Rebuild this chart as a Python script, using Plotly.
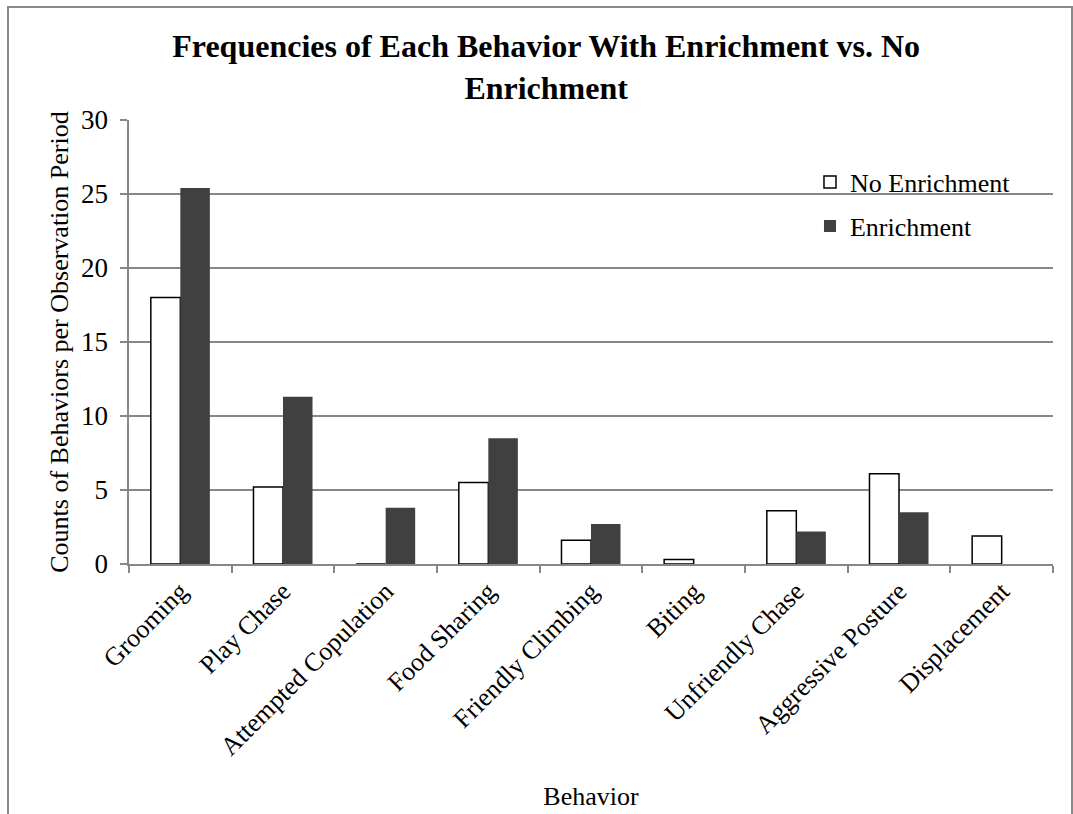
import plotly.graph_objects as go

categories = ["Grooming", "Play Chase", "Attempted Copulation", "Food Sharing",
              "Friendly Climbing", "Biting", "Unfriendly Chase", "Aggressive Posture",
              "Displacement"]
no_enrichment = [18.0, 5.2, 0.0, 5.5, 1.6, 0.3, 3.6, 6.1, 1.9]
enrichment = [25.4, 11.3, 3.8, 8.5, 2.7, 0.0, 2.2, 3.5, 0.0]

FONT = "Liberation Serif, Times New Roman, serif"
GRID = "#878787"

fig = go.Figure()
fig.add_trace(go.Bar(
    x=categories, y=no_enrichment, name="No Enrichment",
    marker=dict(color="white", line=dict(color="black", width=1.5)),
    legend="legend",
))
fig.add_trace(go.Bar(
    x=categories, y=enrichment, name="Enrichment",
    marker=dict(color="#404040", line=dict(color="#404040", width=0)),
    legend="legend2",
))

fig.update_layout(
    width=1073, height=814,
    margin=dict(l=129, r=20, t=120, b=250),
    paper_bgcolor="white", plot_bgcolor="white",
    font=dict(family=FONT, size=26, color="black"),
    barmode="group", bargap=0.425, bargroupgap=0,
    title=dict(
        text="<b>Frequencies of Each Behavior With Enrichment vs. No<br>Enrichment</b>",
        font=dict(family=FONT, size=32, color="black"),
        x=0.509, xanchor="center", xref="container",
        y=0.93, yanchor="top", yref="container",
    ),
    showlegend=True,
    legend=dict(x=0.737, y=0.86, xanchor="left", yanchor="middle",
                bgcolor="rgba(0,0,0,0)", font=dict(family=FONT, size=26),
                itemwidth=30),
    legend2=dict(x=0.737, y=0.761, xanchor="left", yanchor="middle",
                 bgcolor="rgba(0,0,0,0)", font=dict(family=FONT, size=26),
                 itemwidth=30),
    xaxis=dict(
        title=dict(text="Behavior", standoff=26, font=dict(family=FONT, size=26)),
        tickangle=-45, showline=True, linecolor=GRID, linewidth=1.5,
        ticks="outside", tickson="boundaries", ticklen=7, tickcolor=GRID,
        tickwidth=1.5, showgrid=False, automargin=False,
        tickfont=dict(family=FONT, size=26),
    ),
    yaxis=dict(
        title=dict(text="Counts of Behaviors per Observation Period", standoff=5,
                   font=dict(family=FONT, size=26)),
        range=[0, 30], dtick=5, showline=True, linecolor=GRID, linewidth=1.5,
        ticks="outside", ticklen=7, tickcolor=GRID, tickwidth=1.5,
        ticksuffix="\u00a0",
        showgrid=True, gridcolor=GRID, gridwidth=1.5, zeroline=False,
        automargin=True, tickfont=dict(family=FONT, size=27),
    ),
    shapes=[dict(type="rect", xref="paper", yref="paper",
                 x0=(8 - 129) / 924, x1=(1072 - 129) / 924,
                 y0=-0.7, y1=(564 - 7) / 444,
                 line=dict(color="#8a8a8a", width=2), fillcolor="rgba(0,0,0,0)",
                 layer="below")],
)

fig.write_html("out.html")
